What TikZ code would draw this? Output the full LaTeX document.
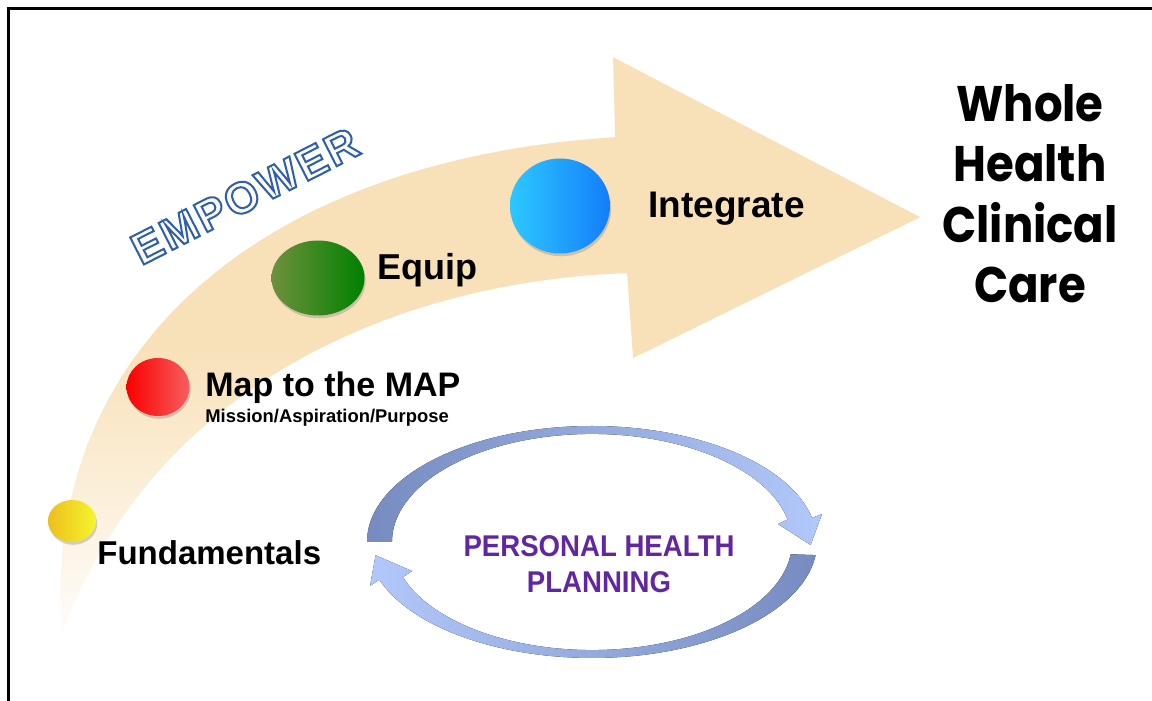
\documentclass[tikz,border=0pt]{standalone}
\usepackage{fontspec}
\setmainfont{Liberation Sans}
\newfontfamily\careFont{Poppins}
\usetikzlibrary{shapes.geometric, shadows, fadings}

\definecolor{arrowtan}{RGB}{248,225,185}
\definecolor{empfill}{RGB}{252,250,242}
\definecolor{phpurple}{RGB}{98,38,160}
\definecolor{ringdark}{RGB}{118,140,192}
\definecolor{ringlight}{RGB}{178,200,250}

% outlined letters: fill in text colour, stroke in blue
\newcommand{\outlinetext}[1]{\special{pdf:literal direct 2 Tr 1.0 w 0.176 0.373 0.667 RG}#1\special{pdf:literal direct 0 Tr}}

\tikzfading[name=tail fade, top color=transparent!0, bottom color=transparent!92, middle color=transparent!0]

\begin{document}
\begin{tikzpicture}[x=0.5pt, y=0.5pt,
    stepdot/.style={ellipse, inner sep=0pt, drop shadow={opacity=0.35, shadow xshift=0.6pt, shadow yshift=-1.4pt}},
    steplabel/.style={anchor=base west, inner sep=0pt, font=\bfseries\fontsize{#1}{#1}\selectfont},
    careword/.style={anchor=base, inner sep=0pt, xscale=0.9, font=\careFont\bfseries\fontsize{25}{25}\selectfont},
    phptext/.style={anchor=base, inner sep=0pt, xscale=0.92, text=phpurple, font=\bfseries\fontsize{15}{15}\selectfont}]
    \useasboundingbox (0,0) rectangle (1152,701);

    % Frame
    \draw[line width=1.5pt] (8,0) -- (8,692) -- (1152,692);

    % Big curved arrow
    \fill[arrowtan, path fading=tail fade] (62,68) .. controls (40,341) and (250,541) .. (615,564)
        -- (613,644) -- (920,484) -- (633,343) -- (627,428)
        .. controls (420,421) and (160,331) .. (62,68) -- cycle;

    % EMPOWER
    \node[rotate=27, inner sep=0pt, text=empfill, font=\bfseries\fontsize{22}{22}\selectfont\addfontfeatures{LetterSpace=6}] (empower) at (245,505) {\outlinetext{EMPOWER}};

    % Step dots
    \node[stepdot, minimum width=24pt, minimum height=21pt, left color={rgb,255:red,238;green,190;blue,30}, right color={rgb,255:red,245;green,245;blue,45}] (fund dot) at (72,180) {};
    \node[stepdot, minimum width=31.5pt, minimum height=29pt, left color={rgb,255:red,250;green,0;blue,0}, right color={rgb,255:red,245;green,95;blue,95}] (map dot) at (158,314) {};
    \node[stepdot, minimum width=46.5pt, minimum height=37.5pt, left color={rgb,255:red,110;green,145;blue,60}, right color={rgb,255:red,0;green,128;blue,0}] (equip dot) at (318,423) {};
    \node[stepdot, minimum width=50pt, minimum height=47.5pt, left color={rgb,255:red,45;green,200;blue,255}, right color={rgb,255:red,20;green,125;blue,250}] (integrate dot) at (560,495) {};

    % Step labels
    \node[steplabel=16.5] (fund) at (97,136) {Fundamentals};
    \node[steplabel=17] (map) at (205,304) {Map to the MAP};
    \node[steplabel=9.2] (mission) at (205,278) {Mission/Aspiration/Purpose};
    \node[steplabel=18] (equip) at (377,421) {Equip};
    \node[steplabel=18.5] (integrate) at (648,483) {Integrate};

    % Goal
    \foreach \word/\yy [count=\i] in {Whole/579, Health/519, Clinical/458, Care/398}
        \node[careword] (care\i) at (1030,\yy) {\word};

    % Personal health planning cycle
    \fill[left color=ringdark, right color=ringlight] (367,159)
        arc[start angle=180, end angle=12, x radius=225, y radius=116]
        -- (822,187) -- (810.6,156) -- (778,177) -- (787.6,181.5)
        arc[start angle=12, end angle=180, x radius=200, y radius=108] -- cycle;
    \fill[left color=ringlight, right color=ringdark] (815.6,145.9)
        arc[start angle=-6.5, end angle=-161, x radius=225, y radius=116]
        -- (370,115) -- (375.6,145.7) -- (412,130) -- (402.9,123.8)
        arc[start angle=-161, end angle=-6.5, x radius=200, y radius=108] -- cycle;

    \node[phptext] (php top) at (599,144) {PERSONAL HEALTH};
    \node[phptext] (php bottom) at (599,108) {PLANNING};
\end{tikzpicture}
\end{document}
